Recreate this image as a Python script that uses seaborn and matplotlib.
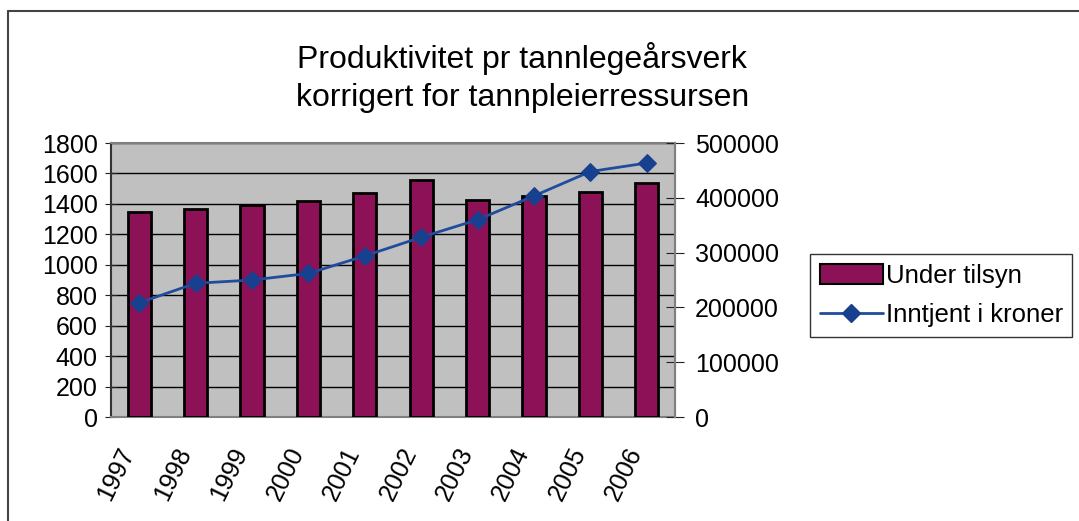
import numpy as np
import pandas as pd
import matplotlib
matplotlib.use("Agg")
import matplotlib.pyplot as plt
import seaborn as sns
from matplotlib.patches import Patch
from matplotlib.lines import Line2D

# data
years = ["1997", "1998", "1999", "2000", "2001", "2002", "2003", "2004", "2005", "2006"]
under_tilsyn = [1350, 1365, 1394, 1420, 1471, 1554, 1425, 1453, 1481, 1537]
inntjent = [208500, 244000, 250000, 262000, 294000, 328000, 360000, 403500, 448000, 463500]

df = pd.DataFrame({"Year": years, "Under tilsyn": under_tilsyn, "Inntjent": inntjent})

sns.set_style("white")
plt.rcParams["font.family"] = ["Liberation Sans", "DejaVu Sans"]
plt.rcParams["text.color"] = "black"
plt.rcParams["xtick.color"] = "black"
plt.rcParams["ytick.color"] = "black"

bar_col = "#8C1157"
line_col = "#1F4C9C"
marker_col = "#17408E"

fig = plt.figure(figsize=(10.79, 5.21), dpi=100)
ax = fig.add_axes([0.1029, 0.1996, 0.5227, 0.5259])
ax.set_facecolor("#C0C0C0")

sns.barplot(data=df, x="Year", y="Under tilsyn", color=bar_col, width=0.41,
            edgecolor="black", linewidth=2, saturation=1, ax=ax, zorder=3)
ax.set_ylim(0, 1800)
ax.set_yticks(np.arange(0, 1801, 200))
ax.yaxis.grid(True, color="black", linewidth=1)
ax.set_axisbelow(True)
ax.set_xlim(-0.5, len(years) - 0.5)
ax.set_xlabel("")
ax.set_ylabel("")

# ticks between categories, labels in the middle
ax.set_xticks(np.arange(len(years)))
ax.set_xticklabels(years, rotation=64, ha="right", va="top", fontsize=18)
ax.set_xticks(np.arange(-0.5, len(years)), minor=True)
ax.tick_params(axis="x", which="major", length=0, pad=19)
ax.tick_params(axis="x", which="minor", length=11, direction="inout", color="#333333")
ax.tick_params(axis="y", labelsize=18, length=9, direction="inout", color="#222222", pad=5, left=True)

for s in ax.spines.values():
    s.set_color("#808080")
    s.set_linewidth(1.5)
ax.spines["left"].set_color("#333333")

ax2 = ax.twinx()
sns.lineplot(x=np.arange(len(years)), y=inntjent, ax=ax2, color=line_col, linewidth=2,
             marker="D", markersize=9, markerfacecolor=marker_col, markeredgecolor=marker_col)
ax2.set_ylim(0, 500000)
ax2.set_yticks(np.arange(0, 500001, 100000))
ax2.set_yticklabels([str(v) for v in range(0, 500001, 100000)])
ax2.tick_params(axis="y", labelsize=18, length=13, direction="inout", color="#222222", pad=8, right=True)
ax2.set_xlim(-0.5, len(years) - 0.5)
for s in ax2.spines.values():
    s.set_visible(False)
ax2.spines["right"].set_visible(True)
ax2.spines["right"].set_color("#808080")
ax2.spines["right"].set_linewidth(1.5)

fig.text(0.484, 0.851, "Produktivitet pr tannlegeårsverk\nkorrigert for tannpleierressursen",
         ha="center", va="center", fontsize=23, linespacing=1.38)

handles = [Patch(facecolor=bar_col, edgecolor="black", linewidth=1.5),
           Line2D([0], [0], color=line_col, linewidth=2, marker="D", markersize=9,
                  markerfacecolor=marker_col, markeredgecolor=marker_col)]
leg = fig.legend(handles, ["Under tilsyn", "Inntjent i kroner"], loc="upper left",
                 bbox_to_anchor=(0.7505, 0.512), fontsize=18.5, frameon=True, fancybox=False,
                 handlelength=2.45, handletextpad=0.12, borderpad=0.38, labelspacing=0.6,
                 borderaxespad=0, handleheight=0.8)
leg.get_frame().set_edgecolor("black")
leg.get_frame().set_linewidth(1)

# outer border of the chart area (left and top edges)
fig.add_artist(Line2D([8 / 1079, 8 / 1079], [0, 1 - 11 / 521], transform=fig.transFigure,
                      color="#444444", linewidth=1.5))
fig.add_artist(Line2D([8 / 1079, 1], [1 - 11 / 521, 1 - 11 / 521], transform=fig.transFigure,
                      color="#444444", linewidth=1.5))

fig.savefig("out.png", dpi=100)
